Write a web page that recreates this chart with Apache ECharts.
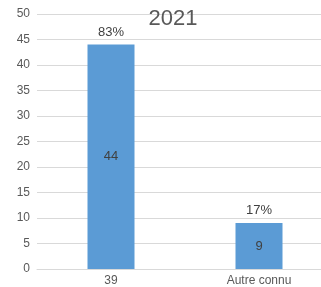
<!DOCTYPE html>
<html>
<head>
<meta charset="utf-8">
<script src="https://cdn.jsdelivr.net/npm/echarts@6/dist/echarts.min.js"></script>
<style>
  html, body { margin: 0; padding: 0; background: #fff; }
  #chart { width: 321px; height: 287px; }
</style>
</head>
<body>
<div id="chart"></div>
<script>
// données
const categories = ["39", "Autre connu"];
const counts = [44, 9];
const percents = ["83%", "17%"];
const yTicks = { min: 0, max: 50, interval: 5 };

const chart = echarts.init(document.getElementById("chart"));
const font = "'Liberation Sans', 'DejaVu Sans', sans-serif";

const option = {
  animation: false,
  title: {
    text: "2021",
    left: 168,
    top: 3,
    textAlign: "center",
    textStyle: { color: "#595959", fontSize: 22, fontWeight: "normal", fontFamily: font },
  },
  grid: { left: 37, right: -12, top: 14, bottom: 18, outerBoundsMode: "none" },
  xAxis: {
    type: "category",
    data: categories,
    axisTick: { show: false },
    axisLine: { lineStyle: { color: "#d9d9d9" } },
    axisLabel: { color: "#595959", fontSize: 12, fontFamily: font, margin: 6 },
  },
  yAxis: {
    type: "value",
    min: yTicks.min,
    max: yTicks.max,
    interval: yTicks.interval,
    axisLine: { show: false },
    axisTick: { show: false },
    axisLabel: { color: "#595959", fontSize: 12, fontFamily: font, margin: 7 },
    splitLine: { lineStyle: { color: "#d9d9d9" } },
  },
  series: [
    {
      type: "bar",
      data: counts,
      barWidth: 47,
      itemStyle: { color: "#5b9bd5" },
      label: {
        show: true,
        position: "inside",
        color: "#404040",
        fontSize: 13,
        fontFamily: font,
      },
      z: 2,
    },
    {
      type: "bar",
      data: counts,
      barWidth: 47,
      barGap: "-100%",
      itemStyle: { color: "transparent" },
      label: {
        show: true,
        position: "top",
        distance: 6,
        color: "#404040",
        fontSize: 13,
        fontFamily: font,
        formatter: (p) => percents[p.dataIndex],
      },
      z: 3,
    },
  ],
};
chart.setOption(option);
</script>
</body>
</html>
